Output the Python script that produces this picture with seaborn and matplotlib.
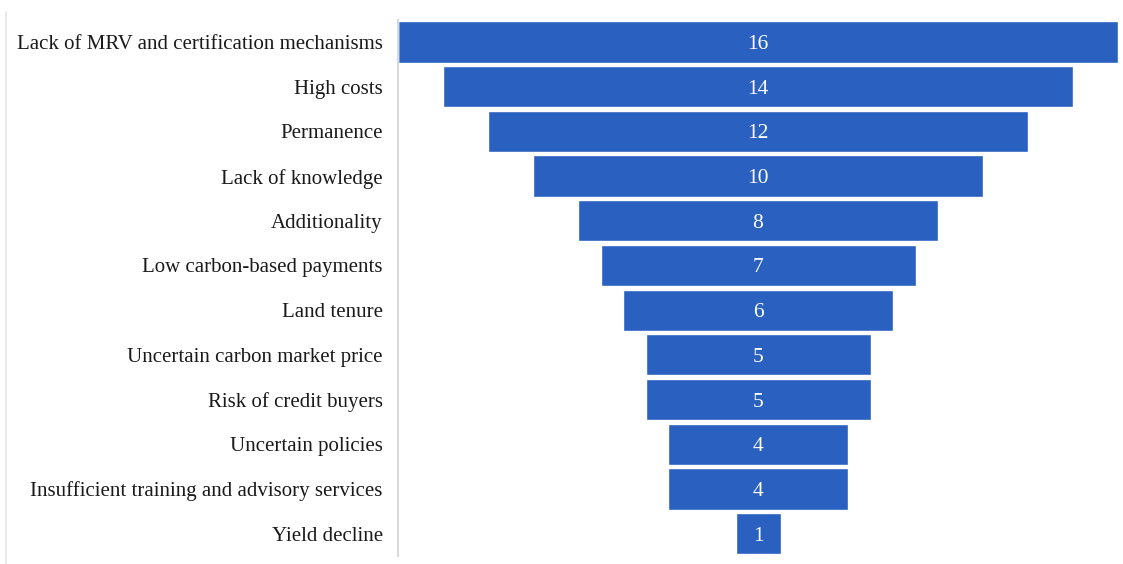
import matplotlib
matplotlib.use("Agg")
import matplotlib.pyplot as plt
import seaborn as sns
import pandas as pd

categories = [
    "Lack of MRV and certification mechanisms",
    "High costs",
    "Permanence",
    "Lack of knowledge",
    "Additionality",
    "Low carbon-based payments",
    "Land tenure",
    "Uncertain carbon market price",
    "Risk of credit buyers",
    "Uncertain policies",
    "Insufficient training and advisory services",
    "Yield decline",
]
values = [16, 14, 12, 10, 8, 7, 6, 5, 5, 4, 4, 1]

sns.set_theme(style="white")
plt.rcParams["font.family"] = ["Liberation Serif", "DejaVu Serif"]

vmax = max(values)
df = pd.DataFrame({
    "category": categories,
    "value": values,
    "right": [(vmax + v) / 2 for v in values],
    "spacer": [(vmax - v) / 2 for v in values],
})

fig = plt.figure(figsize=(11.23, 5.64), dpi=100)
ax = fig.add_axes([398 / 1123, 1 - 556 / 564, 720 / 1123, (556 - 19.6) / 564])

blue = "#2A61C0"
sns.barplot(data=df, y="category", x="right", orient="h", color=blue,
            saturation=1, width=0.92, ax=ax, order=categories)
sns.barplot(data=df, y="category", x="spacer", orient="h", color="white",
            saturation=1, width=0.96, ax=ax, order=categories)

for i, v in enumerate(values):
    ax.text(vmax / 2, i, str(v), ha="center", va="center_baseline", color="white",
            fontsize=15.5)

ax.set_xlim(0, vmax)
ax.set_ylim(len(categories) - 0.5, -0.5)
ax.set_xlabel("")
ax.set_ylabel("")
ax.set_xticks([])
ax.tick_params(axis="y", labelsize=15, length=0, pad=11, colors="#1a1a1a")
for s in ["top", "right", "bottom"]:
    ax.spines[s].set_visible(False)
ax.spines["left"].set_color("#d9d9d9")
ax.spines["left"].set_linewidth(1.5)
ax.spines["left"].set_zorder(5)

fig.add_artist(plt.Line2D([6 / 1123, 6 / 1123], [1 - 12 / 564, 0], color="#e6e6e6", lw=1.2))

fig.savefig("out.png", dpi=100)
